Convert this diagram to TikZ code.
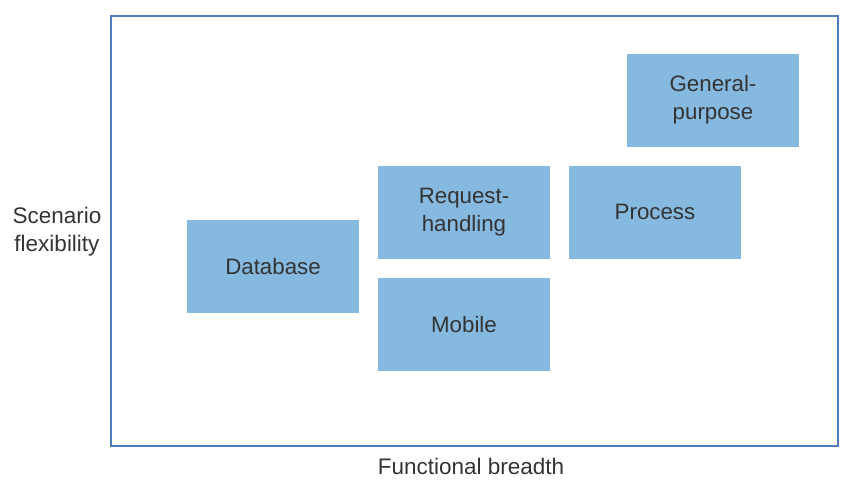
\documentclass[tikz,border=0pt]{standalone}
\usepackage{fontspec}
\setmainfont{Liberation Sans}
\usetikzlibrary{positioning}
\definecolor{boxblue}{HTML}{86B9E0}
\definecolor{framblue}{HTML}{4F7DB8}
\definecolor{textgray}{HTML}{333333}

\begin{document}
\begin{tikzpicture}[
    x=1pt, y=-1pt,
    block/.style={rectangle, fill=boxblue, minimum width=172pt, minimum height=93pt, align=center, inner sep=0pt, text=textgray, font=\fontsize{22.3}{28}\selectfont},
    axislabel/.style={align=center, text=textgray, font=\fontsize{22.5}{28}\selectfont},
    node distance=3.0cm
  ]
    \useasboundingbox (0,0) rectangle (850,496);

    \node[draw=framblue, line width=2pt, minimum width=727pt, minimum height=430pt, inner sep=0pt] (frame) at (474.5,231) {};

    \node[block] (database) at (273,266.5) {Database};
    \node[block] (request) at (464,212) {Request-\\handling};
    \node[block] (mobile) at (464,324.5) {Mobile};
    \node[block] (process) at (655,212) {Process};
    \node[block] (general) at (713,100) {General-\\purpose};

    \node[axislabel] (flex) at (57,232) {Scenario\\flexibility};
    \node[axislabel] (breadth) at (471,466) {Functional breadth};
  \end{tikzpicture}
\end{document}
